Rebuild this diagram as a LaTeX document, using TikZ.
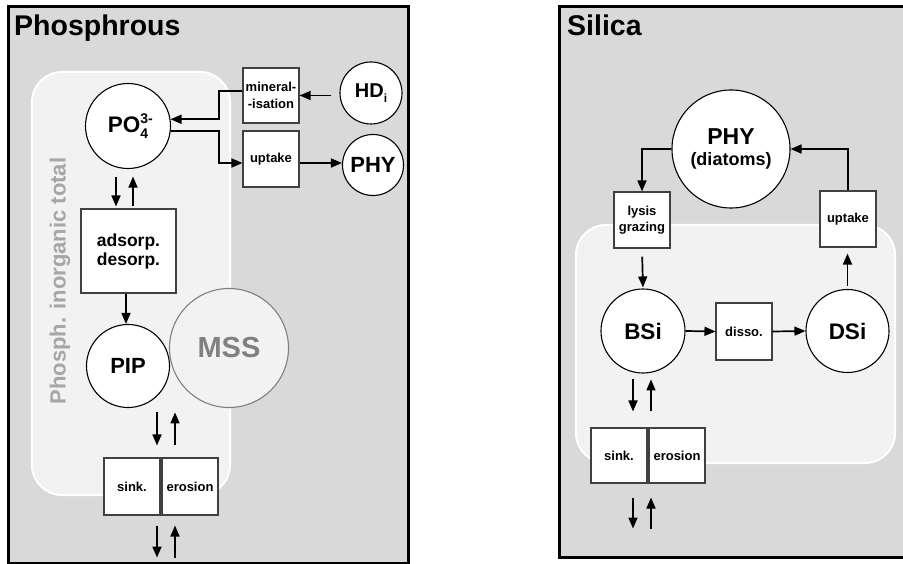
\documentclass[tikz,border=0pt]{standalone}
\usepackage{fontspec}
\setmainfont{Liberation Sans}
\usetikzlibrary{arrows.meta}
\definecolor{panelgray}{HTML}{D9D9D9}
\definecolor{innergray}{HTML}{F2F2F2}
\definecolor{labelgray}{HTML}{A6A6A6}
\definecolor{mssgray}{HTML}{808080}
\definecolor{boxline}{HTML}{404040}
\newcommand{\fs}[2]{\fontsize{#1}{#2}\selectfont\bfseries}
\begin{document}
\begin{tikzpicture}[x=1pt,y=-1pt,
  panel/.style={draw=black,line width=3pt,fill=panelgray},
  region/.style={draw=white,line width=2pt,fill=innergray,rounded corners=30pt},
  pool/.style={circle,draw=black,line width=1.1pt,fill=white,inner sep=0pt},
  proc/.style={rectangle,draw=boxline,line width=1.1pt,fill=white,inner sep=0pt,minimum width=56pt,minimum height=56pt,align=center,font=\fs{13}{16.5}},
  flow/.style={-{Triangle[length=11pt,width=9pt]},line width=1.7pt},
]
\useasboundingbox (0,0) rectangle (903,564);
% panels
\draw[panel] (8,7) rectangle (408,563);
\draw[panel] (559,7) rectangle (912,557);
\draw[region] (32,72) rectangle (230,495);
\draw[region] (576,225) rectangle (895,463);
% titles
\node[anchor=north west,inner sep=0pt,font=\fs{28.5}{30}] (titleP) at (14,15) {Phosphrous};
\node[anchor=north west,inner sep=0pt,font=\fs{28.5}{30}] (titleS) at (567,15) {Silica};
\node[rotate=90,text=labelgray,font=\fs{22}{24}] (lbl) at (60,281) {Phosph. inorganic total};
% left nodes
\node[pool,minimum size=85pt,font=\fs{22.5}{24}] (po4) at (128,126)
  {PO\makebox[0pt][l]{\raisebox{0.78ex}{\fs{14}{14}3-}}\raisebox{-0.5ex}{\fs{14}{14}4}\hspace{0.9em}};
\node[proc,minimum height=55pt] (mineral) at (271,95.5) {mineral-\\-isation};
\node[proc] (uptL) at (271,159) {uptake};
\node[pool,minimum size=62pt,font=\fs{20}{22}] (hd) at (371,93) {HD\raisebox{-0.45ex}{\fs{12}{12}i}};
\node[pool,minimum size=61pt,font=\fs{22}{24}] (phyL) at (373,165) {PHY};
\node[proc,minimum width=95pt,minimum height=84pt,font=\fs{17.5}{19}] (ads) at (128.5,251) {adsorp.\\desorp.};
\node[pool,draw=mssgray,fill=innergray,minimum size=119pt,text=mssgray,font=\fs{29}{30}] (mss) at (229,348) {MSS};
\node[pool,minimum size=83pt,font=\fs{22}{24}] (pip) at (128,366) {PIP};
\node[proc,minimum height=57pt] (sinkL) at (132,486.5) {sink.};
\node[proc,minimum height=57pt] (eroL) at (190,486.5) {erosion};
% left connectors
\coordinate (bend) at (219,0);
\coordinate (mineralOut) at ([yshift=4.5pt]mineral.west);
\coordinate (uptLin) at ([yshift=-4pt]uptL.west);
\coordinate (uptLout) at ([yshift=-4pt]uptL.east);
\draw[flow,shorten <=8pt] (hd.west |- mineral.east) -- (mineral.east);
\draw[flow] (mineralOut) -| (bend |- po4.9.5) -- (po4.9.5);
\draw[flow] (po4.-7) -| (bend |- uptLin) -- (uptLin);
\draw[flow] (uptLout) -- (uptLout -| phyL.west);
\draw[flow,shorten <=7.5pt,shorten >=2pt] ([xshift=-12pt]po4.south) -- ([xshift=-12.5pt]ads.north);
\draw[flow,shorten <=2pt,shorten >=7.5pt] ([xshift=4.5pt]ads.north) -- ([xshift=5pt]po4.south);
\draw[flow] ([xshift=-2.5pt]ads.south) -- ([xshift=-2pt]pip.north);
\draw[flow] ([xshift=25pt,yshift=45pt]sinkL.north) -- ([xshift=25pt,yshift=12pt]sinkL.north);
\draw[flow] ([xshift=-15pt,yshift=12pt]eroL.north) -- ([xshift=-15pt,yshift=45pt]eroL.north);
\draw[flow] ([xshift=25pt,yshift=-10pt]sinkL.south) -- ([xshift=25pt,yshift=-42pt]sinkL.south);
\draw[flow] ([xshift=-15pt,yshift=-42pt]eroL.south) -- ([xshift=-15pt,yshift=-10pt]eroL.south);
% right nodes
\node[pool,minimum size=118pt,align=center,font=\fs{23}{21}] (phyR) at (731,149) {PHY\\{\fs{18}{21}(diatoms)}};
\node[proc] (lysis) at (642,220) {lysis\\grazing};
\node[proc] (uptR) at (848,219) {uptake};
\node[pool,minimum size=84pt,font=\fs{22.5}{24}] (bsi) at (643,331) {BSi};
\node[proc,minimum height=57pt] (disso) at (744,331.5) {disso.};
\node[pool,minimum size=83pt,font=\fs{22.5}{24}] (dsi) at (847.5,331) {DSi};
\node[proc,minimum height=55pt] (sinkR) at (619,455.5) {sink.};
\node[proc,minimum height=55pt] (eroR) at (677,455.5) {erosion};
% right connectors
\draw[flow] (phyR.west) -| (lysis.north);
\draw[flow] (uptR.north) |- (phyR.east);
\draw[flow,shorten <=8pt,shorten >=1pt] (lysis.south) -- (bsi.north);
\draw[flow,shorten <=3pt,shorten >=6pt] (dsi.north) -- (dsi.north |- uptR.south);
\draw[flow] (bsi.east) -- (disso.west);
\draw[flow] (disso.east) -- (dsi.west);
\draw[flow] ([xshift=14pt,yshift=48pt]sinkR.north) -- ([xshift=14pt,yshift=16pt]sinkR.north);
\draw[flow] ([xshift=-26pt,yshift=16pt]eroR.north) -- ([xshift=-26pt,yshift=48pt]eroR.north);
\draw[flow] ([xshift=14pt,yshift=-14pt]sinkR.south) -- ([xshift=14pt,yshift=-45pt]sinkR.south);
\draw[flow] ([xshift=-26pt,yshift=-45pt]eroR.south) -- ([xshift=-26pt,yshift=-14pt]eroR.south);
\end{tikzpicture}
\end{document}
